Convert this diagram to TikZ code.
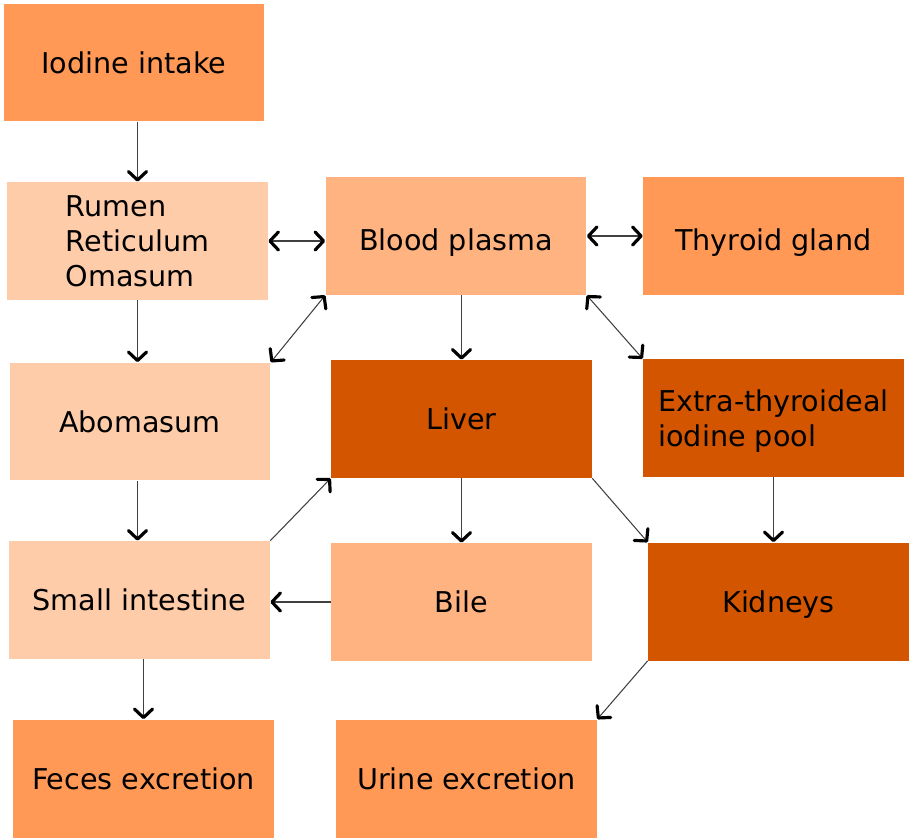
\documentclass[tikz,border=0pt]{standalone}
\usepackage{fontspec}
\setmainfont{DejaVu Sans}
\usepackage{tikz}
\usetikzlibrary{arrows.meta}
\definecolor{boxmid}{HTML}{FF9955}
\definecolor{boxlight}{HTML}{FFCCAA}
\definecolor{boxpale}{HTML}{FFB380}
\definecolor{boxdark}{HTML}{D45500}

\begin{document}
\begin{tikzpicture}[x=0.02cm, y=-0.02cm,
  organ/.style={inner sep=0pt, minimum width=5.22cm, minimum height=2.36cm,
    font=\fontsize{16.3}{19.8}\selectfont, align=center, text depth=0pt},
  lowtext/.style={text height=16pt},
  arr/.style={-{Straight Barb[length=1.7mm, width=3.6mm, line width'=1.8pt, color=black, round]},
    black!75, line width=0.6pt},
  darr/.style={{Straight Barb[length=1.7mm, width=3.6mm, line width'=1.8pt, color=black, round]}-{Straight Barb[length=1.7mm, width=3.6mm, line width'=1.8pt, color=black, round]},
    black!75, line width=0.6pt},
]
\useasboundingbox (0,0) rectangle (909,839);
% boxes
\node[organ, fill=boxmid] (intake) at (134,62.5) {Iodine intake};
\node[organ, fill=boxlight, align=left] (rumen) at (137.5,241) {Rumen\\Reticulum\\Omasum};
\node[organ, fill=boxpale, lowtext] (plasma) at (456,236) {Blood plasma};
\node[organ, fill=boxmid, lowtext] (thyroid) at (773.5,236) {Thyroid gland};
\node[organ, fill=boxlight] (aboma) at (140,421.5) {Abomasum};
\node[organ, fill=boxdark] (liver) at (461.5,419) {Liver};
\node[organ, fill=boxdark, align=left] (pool) at (773.5,418) {Extra-thyroideal\\iodine pool};
\node[organ, fill=boxlight] (intest) at (139.5,600) {Small intestine};
\node[organ, fill=boxpale] (bile) at (461.5,602) {Bile};
\node[organ, fill=boxdark] (kidney) at (778.5,601.5) {Kidneys};
\node[organ, fill=boxmid] (feces) at (143.5,778.5) {Feces excretion};
\node[organ, fill=boxmid] (urine) at (466.5,778.5) {Urine excretion};

% flows
\draw[arr] (rumen.north |- intake.south) -- (rumen.north);
\draw[darr] (rumen.east) -- (rumen.east -| plasma.west);
\draw[darr] (plasma.east) -- (plasma.east -| thyroid.west);
\draw[arr] (rumen.south) -- (rumen.south |- aboma.north);
\draw[darr] (plasma.south west) -- (aboma.north east);
\draw[arr] (plasma.south -| liver.north) -- (liver.north);
\draw[darr] (plasma.south east) -- (pool.north west);
\draw[arr] (rumen.south |- aboma.south) -- (rumen.south |- intest.north);
\draw[arr] (intest.north east) -- (liver.south west);
\draw[arr] (liver.south) -- (liver.south |- bile.north);
\draw[arr] (liver.south east) -- (kidney.north west);
\draw[arr] (pool.south) -- (pool.south |- kidney.north);
\draw[arr] (bile.west) -- (bile.west -| intest.east);
\draw[arr] (feces.north |- intest.south) -- (feces.north);
\draw[arr] (kidney.south west) -- (urine.north east);
\end{tikzpicture}
\end{document}
